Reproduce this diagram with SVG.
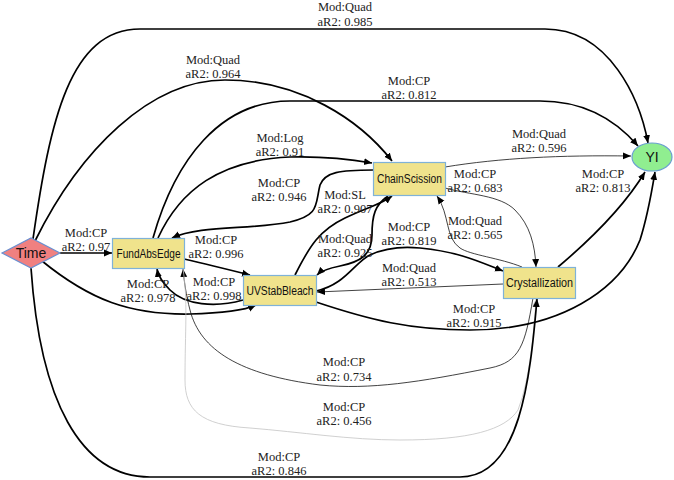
<svg xmlns="http://www.w3.org/2000/svg" width="674" height="480" viewBox="0 0 674 480">
<style>
.bg{fill:#ffffff}
.box{fill:#F0E38C;stroke:#7FB2D8;stroke-width:1.2}
.nt{font-family:"Liberation Sans","DejaVu Sans",sans-serif;font-size:12px;fill:#111;text-anchor:middle;dominant-baseline:central}
.lb{font-family:"Liberation Serif","DejaVu Serif",serif;font-size:12.5px;fill:#222;text-anchor:middle}
.e{fill:none;stroke:#000;stroke-width:1.7}
.t{fill:none;stroke:#111;stroke-width:0.8}
.g{fill:none;stroke:#c4c4c4;stroke-width:0.8}
</style>
<defs>
<marker id="a" markerUnits="userSpaceOnUse" markerWidth="9" markerHeight="8" refX="8" refY="4" orient="auto"><path d="M0,0.5 L8,4 L0,7.5 Z" fill="#000"/></marker>
<marker id="ag" markerUnits="userSpaceOnUse" markerWidth="9" markerHeight="8" refX="8" refY="4" orient="auto"><path d="M0,0.5 L8,4 L0,7.5 Z" fill="#c4c4c4"/></marker>
</defs>
<rect class="bg" x="0" y="0" width="674" height="480"/>
<g id="connectors">
<path class="e" marker-end="url(#a)" d="M33,239 C50,120 70,29 140,29 L545,29 C610,29 640,100 648,143"/>
<path class="e" marker-end="url(#a)" d="M35,241 C80,150 150,80 225,80 C300,80 360,120 392,161"/>
<path class="e" marker-end="url(#a)" d="M153,238 C175,160 220,101 290,101 L540,101 C590,101 620,125 638,146"/>
<path class="e" marker-end="url(#a)" d="M158,238 C180,190 220,160 290,157 C330,156 355,160 372,163"/>
<path class="e" marker-end="url(#a)" d="M373,170 C340,170 325,172 320,185 C315,205 320,215 290,222 C250,230 200,225 172,238"/>
<path class="e" marker-end="url(#a)" d="M60,253 L112,253"/>
<path class="e" marker-end="url(#a)" d="M184,259 C210,265 230,270 250,275"/>
<path class="e" marker-end="url(#a)" d="M243,300 C215,308 185,305 170,290 C162,282 158,275 157,269"/>
<path class="e" marker-end="url(#a)" d="M42,261 C90,300 130,315 190,314 C225,313 245,310 256,305"/>
<path class="t" marker-end="url(#a)" d="M533,298 C525,345 520,362 490,368 C420,382 370,390 320,385 C240,375 200,350 190,310 C186,295 184,280 183,269"/>
<path class="g" marker-end="url(#ag)" d="M183,269 C188,300 185,330 185,380 C185,410 200,425 250,428 C300,432 350,440 400,440 C470,440 505,430 518,410 C530,380 534,330 536,299"/>
<path class="e" marker-end="url(#a)" d="M31,268 C40,400 80,477 150,477 L460,477 C520,477 530,380 537,299"/>
<path class="e" marker-end="url(#a)" d="M295,275 C310,245 320,230 345,218 C370,206 380,205 392,196"/>
<path class="e" marker-end="url(#a)" d="M388,196 C375,205 372,215 372,235 C372,255 360,262 340,266 C330,268 322,270 317,275"/>
<path class="e" marker-end="url(#a)" d="M316,291 C345,285 355,262 370,255 C385,248 400,246 420,248 C460,252 480,262 503,271"/>
<path class="t" marker-end="url(#a)" d="M503,284 L317,292"/>
<path class="e" marker-end="url(#a)" d="M316,302 C370,320 410,330 470,330 C560,330 620,290 640,240 C648,215 652,190 655,172"/>
<path class="e" marker-end="url(#a)" d="M558,267 C590,240 625,205 645,172"/>
<path class="t" marker-end="url(#a)" d="M445,167 C500,158 560,155 631,156"/>
<path class="t" marker-end="url(#a)" d="M445,188 C470,195 500,195 515,210 C530,225 535,245 536,267"/>
<path class="t" marker-end="url(#a)" d="M522,267 C500,258 470,255 460,248 C445,238 450,215 437,196"/>
<text class="lb" x="345" y="11">Mod:Quad<tspan x="345" dy="15">aR2: 0.985</tspan></text>
<text class="lb" x="213" y="64">Mod:Quad<tspan x="213" dy="14">aR2: 0.964</tspan></text>
<text class="lb" x="409" y="85">Mod:CP<tspan x="409" dy="14">aR2: 0.812</tspan></text>
<text class="lb" x="280" y="142">Mod:Log<tspan x="280" dy="14">aR2: 0.91</tspan></text>
<text class="lb" x="279" y="187">Mod:CP<tspan x="279" dy="14">aR2: 0.946</tspan></text>
<text class="lb" x="345" y="199">Mod:SL<tspan x="345" dy="14">aR2: 0.907</tspan></text>
<text class="lb" x="539" y="138">Mod:Quad<tspan x="539" dy="14">aR2: 0.596</tspan></text>
<text class="lb" x="475" y="178">Mod:CP<tspan x="475" dy="14">aR2: 0.683</tspan></text>
<text class="lb" x="603" y="178">Mod:CP<tspan x="603" dy="14">aR2: 0.813</tspan></text>
<text class="lb" x="475" y="225">Mod:Quad<tspan x="475" dy="14">aR2: 0.565</tspan></text>
<text class="lb" x="86" y="237">Mod:CP<tspan x="86" dy="14">aR2: 0.97</tspan></text>
<text class="lb" x="216" y="244">Mod:CP<tspan x="216" dy="14">aR2: 0.996</tspan></text>
<text class="lb" x="148" y="288">Mod:CP<tspan x="148" dy="14">aR2: 0.978</tspan></text>
<text class="lb" x="214" y="286">Mod:CP<tspan x="214" dy="14">aR2: 0.998</tspan></text>
<text class="lb" x="345" y="243">Mod:Quad<tspan x="345" dy="14">aR2: 0.925</tspan></text>
<text class="lb" x="409" y="231">Mod:CP<tspan x="409" dy="14">aR2: 0.819</tspan></text>
<text class="lb" x="409" y="272">Mod:Quad<tspan x="409" dy="14">aR2: 0.513</tspan></text>
<text class="lb" x="474" y="313">Mod:CP<tspan x="474" dy="14">aR2: 0.915</tspan></text>
<text class="lb" x="344" y="366">Mod:CP<tspan x="344" dy="15">aR2: 0.734</tspan></text>
<text class="lb" x="344" y="411">Mod:CP<tspan x="344" dy="14">aR2: 0.456</tspan></text>
<text class="lb" x="279" y="461">Mod:CP<tspan x="279" dy="14">aR2: 0.846</tspan></text>
</g>
<g id="Time">
<polygon points="2,253 31,238 60,253 31,268" fill="#F08080" stroke="#6A8FD0" stroke-width="1.2"/>
<text class="nt" x="31" y="253" style="font-size:14px">Time</text>
</g>
<g id="FundAbsEdge">
<rect class="box" x="112.5" y="238.5" width="72" height="30"/>
<text class="nt" x="148.5" y="254" textLength="64" lengthAdjust="spacingAndGlyphs">FundAbsEdge</text>
</g>
<g id="UVStabBleach">
<rect class="box" x="243.5" y="275.5" width="73" height="30"/>
<text class="nt" x="280" y="291" textLength="67" lengthAdjust="spacingAndGlyphs">UVStabBleach</text>
</g>
<g id="ChainScission">
<rect class="box" x="373.5" y="162.5" width="72" height="33"/>
<text class="nt" x="409.5" y="179" textLength="65" lengthAdjust="spacingAndGlyphs">ChainScission</text>
</g>
<g id="Crystallization">
<rect class="box" x="503.5" y="267.5" width="72" height="31"/>
<text class="nt" x="539.5" y="283" textLength="67" lengthAdjust="spacingAndGlyphs">Crystallization</text>
</g>
<g id="YI">
<ellipse cx="652" cy="157" rx="20" ry="14" fill="#90EE90" stroke="#6A9FD0" stroke-width="1.2"/>
<text class="nt" x="652" y="157" style="font-size:14px">YI</text>
</g>
</svg>
